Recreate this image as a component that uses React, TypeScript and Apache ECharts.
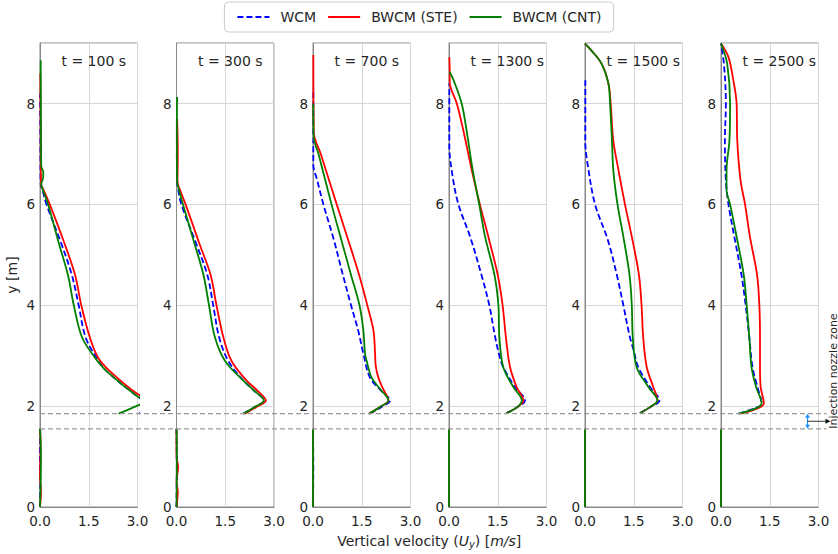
import React, { useEffect, useRef } from 'react';
import * as echarts from 'echarts';

const G: any = ['-', '-'];

const panelTitles = ['t = 100 s', 't = 300 s', 't = 700 s', 't = 1300 s', 't = 1500 s', 't = 2500 s'];
const seriesNames = ['WCM', 'BWCM (STE)', 'BWCM (CNT)'];
const xTicks = [0, 1.5, 3.0];
const yTicks = [0, 2, 4, 6, 8];
const yMax = 9.2;
const nozzleTop = 1.85;
const nozzleBottom = 1.55;

// t = 100 s
const wcm100 = [[0, 0], [0.01, 0.5], [0, 1.0], [0.01, 1.55], G, [3.05, 1.85], [3.3, 2.05], [3.0, 2.19], [2.04, 2.7], [1.73, 2.97], [1.4, 3.37], [1.19, 4.0], [0.98, 4.6], [0.64, 5.25], [0.2, 6.0], [0.07, 6.3], [0.02, 6.4], [0.01, 7.5], [0.005, 8.2]];
const ste100 = [[0, 0], [0.03, 0.3], [0, 0.6], [0.02, 1.2], [0, 1.55], G, [3.2, 1.85], [3.45, 2.1], [3.0, 2.24], [2.14, 2.7], [1.78, 2.97], [1.53, 3.37], [1.27, 4.0], [1.08, 4.6], [0.74, 5.25], [0.3, 6.0], [0.1, 6.3], [0.03, 6.4], [0.02, 7.5], [0.01, 8.6]];
const cnt100 = [[0, 0], [0.02, 0.5], [0.03, 1.0], [0, 1.55], G, [2.42, 1.85], [3.0, 2.01], [3.3, 2.1], [3.0, 2.19], [2.04, 2.7], [1.68, 2.97], [1.29, 3.37], [1.04, 4.0], [0.86, 4.6], [0.57, 5.25], [0.25, 6.0], [0.08, 6.3], [0.04, 6.4], [0.1, 6.55], [0.1, 6.65], [0.04, 6.75], [0.03, 7.5], [0.02, 8.86]];

// t = 300 s
const wcm300 = [[0, 0], [0.01, 0.8], [0, 1.55], G, [2.05, 1.85], [2.4, 1.98], [2.69, 2.11], [2.4, 2.3], [2.05, 2.51], [1.59, 2.9], [1.31, 3.37], [1.13, 4.0], [0.95, 4.6], [0.6, 5.23], [0.15, 6.0], [0.05, 6.3], [0.02, 6.45], [0.01, 7.0]];
const ste300 = [[0, 0], [0.04, 0.3], [0, 0.5], [0.05, 0.8], [0, 1.0], [0, 1.55], G, [2.1, 1.85], [2.45, 1.98], [2.75, 2.11], [2.5, 2.3], [2.15, 2.51], [1.69, 2.9], [1.44, 3.37], [1.23, 4.0], [1.05, 4.6], [0.7, 5.23], [0.28, 6.0], [0.1, 6.3], [0.03, 6.45], [0.04, 7.0], [0.02, 7.7]];
const cnt300 = [[0, 0], [0.01, 1.0], [0, 1.55], G, [2.05, 1.85], [2.4, 1.98], [2.69, 2.11], [2.4, 2.3], [2.05, 2.51], [1.49, 2.9], [1.18, 3.37], [1.0, 4.0], [0.83, 4.6], [0.55, 5.23], [0.2, 6.0], [0.07, 6.3], [0.02, 6.45], [0.01, 7.5], [0.02, 8.13]];

// t = 700 s
const wcm700 = [[0, 0], [0.01, 0.8], [0, 1.55], G, [1.75, 1.85], [2.1, 1.98], [2.37, 2.11], [2.1, 2.3], [1.75, 2.57], [1.55, 3.04], [1.39, 3.5], [1.17, 4.0], [0.9, 4.65], [0.64, 5.3], [0.32, 6.0], [0.12, 6.5], [0.01, 6.78], [0.01, 7.5], [0.01, 8.3]];
const ste700 = [[0, 0], [0, 1.55], G, [1.72, 1.85], [2.05, 1.98], [2.32, 2.11], [2.15, 2.35], [2.01, 2.57], [1.93, 2.8], [1.91, 3.04], [1.86, 3.5], [1.67, 4.0], [1.42, 4.6], [1.08, 5.3], [0.73, 6.0], [0.24, 7.0], [0.02, 7.44], [0.01, 8.96]];
const cnt700 = [[0, 0], [0, 1.55], G, [1.72, 1.85], [2.05, 1.98], [2.32, 2.11], [2.05, 2.35], [1.8, 2.57], [1.65, 2.9], [1.6, 3.04], [1.55, 3.5], [1.43, 4.0], [1.17, 4.6], [0.87, 5.3], [0.57, 6.0], [0.17, 7.0], [0.02, 7.34], [0.01, 8.0]];

// t = 1300 s
const wcm1300 = [[0, 0], [0, 1.55], G, [1.77, 1.86], [2.1, 1.98], [2.34, 2.11], [2.03, 2.38], [1.67, 2.77], [1.55, 3.0], [1.42, 3.37], [1.24, 4.0], [1.0, 4.6], [0.65, 5.36], [0.29, 6.0], [0.1, 6.6], [0.01, 7.17], [0.01, 8.4]];
const ste1300 = [[0, 0], [0, 1.55], G, [1.77, 1.86], [2.1, 1.98], [2.29, 2.11], [2.08, 2.38], [1.88, 2.77], [1.75, 3.37], [1.65, 4.0], [1.5, 4.6], [1.21, 5.36], [0.95, 6.0], [0.7, 6.68], [0.44, 7.47], [0.24, 8.0], [0.02, 8.43], [0.02, 8.7], [0.01, 8.92]];
const cnt1300 = [[0, 0], [0, 1.55], G, [1.77, 1.86], [2.1, 1.98], [2.24, 2.11], [1.98, 2.38], [1.67, 2.77], [1.55, 3.37], [1.52, 4.0], [1.4, 4.6], [1.11, 5.36], [0.93, 6.0], [0.73, 6.68], [0.54, 7.47], [0.39, 8.0], [0.15, 8.45], [0.02, 8.63]];

// t = 1500 s
const wcm1500 = [[0, 0], [0, 1.55], G, [1.69, 1.86], [2.0, 1.98], [2.29, 2.11], [2.0, 2.38], [1.64, 2.77], [1.5, 3.1], [1.38, 3.37], [1.18, 4.0], [0.98, 4.6], [0.7, 5.3], [0.31, 6.0], [0.08, 6.8], [0.01, 7.24], [0.01, 8.5]];
const ste1500 = [[0, 0], [0, 1.55], G, [1.69, 1.86], [2.0, 1.98], [2.23, 2.11], [2.1, 2.38], [1.9, 2.77], [1.79, 3.37], [1.74, 4.0], [1.66, 4.6], [1.44, 5.36], [1.23, 6.0], [1.03, 6.68], [0.87, 7.27], [0.79, 8.0], [0.72, 8.4], [0.51, 8.79], [0.2, 9.05], [0, 9.19]];
const cnt1500 = [[0, 0], [0, 1.55], G, [1.69, 1.86], [2.0, 1.98], [2.23, 2.11], [1.95, 2.38], [1.59, 2.77], [1.47, 3.37], [1.44, 4.0], [1.37, 4.6], [1.18, 5.36], [1.0, 6.0], [0.87, 6.68], [0.83, 7.27], [0.77, 8.0], [0.72, 8.4], [0.51, 8.79], [0.2, 9.05], [0, 9.19]];

// t = 2500 s
const wcm2500 = [[0, 0], [0, 1.55], G, [0.55, 1.85], [1.0, 1.95], [1.25, 2.05], [1.12, 2.38], [0.97, 2.77], [0.87, 3.37], [0.76, 4.0], [0.63, 4.6], [0.41, 5.36], [0.23, 6.0], [0.15, 6.48], [0.12, 7.27], [0.15, 8.0], [0.09, 8.79], [0, 9.19]];
const ste2500 = [[0, 0], [0, 1.55], G, [0.6, 1.85], [1.1, 1.95], [1.32, 2.05], [1.22, 2.38], [1.2, 2.77], [1.2, 3.37], [1.18, 4.0], [1.11, 4.6], [0.89, 5.36], [0.74, 6.0], [0.6, 6.48], [0.5, 7.27], [0.48, 8.0], [0.38, 8.46], [0.23, 8.92], [0, 9.19]];
const cnt2500 = [[0, 0], [0, 1.55], G, [0.53, 1.85], [1.05, 1.95], [1.25, 2.05], [1.08, 2.38], [0.94, 2.77], [0.87, 3.37], [0.79, 4.0], [0.7, 4.6], [0.48, 5.36], [0.28, 6.0], [0.17, 6.28], [0.17, 6.68], [0.26, 7.27], [0.28, 8.0], [0.19, 8.79], [0, 9.19]];

const panelData = [
  [wcm100, ste100, cnt100],
  [wcm300, ste300, cnt300],
  [wcm700, ste700, cnt700],
  [wcm1300, ste1300, cnt1300],
  [wcm1500, ste1500, cnt1500],
  [wcm2500, ste2500, cnt2500],
];

const FONT = 'DejaVu Sans';
const TEXT = '#262626';
const lineColors = ['#0000ff', '#ff0000', '#008000'];
const lineTypes: any[] = [[6, 3], 'solid', 'solid'];
const panelLefts = [40, 176.5, 313, 449, 585, 721];
const panelWidth = 97.5;
const panelTop = 43;
const panelHeight = 464;

export default function App() {
  const ref = useRef<HTMLDivElement>(null);
  useEffect(() => {
    if (!ref.current) return;
    const chart = echarts.init(ref.current, null, { renderer: 'svg' });
    const n = panelData.length;
    const option: any = {
      animation: false,
      textStyle: { fontFamily: FONT },
      legend: {
        data: seriesNames,
        top: 2,
        left: 'center',
        itemWidth: 32,
        itemHeight: 14,
        itemGap: 11,
        padding: [8, 12],
        borderColor: '#cccccc',
        borderWidth: 1,
        borderRadius: 4,
        itemStyle: { opacity: 0, borderWidth: 0 },
        textStyle: { fontSize: 14, color: TEXT, fontFamily: FONT, padding: [0, 0, 0, 6] },
      },
      grid: panelLefts.map((l) => ({
        left: l,
        top: panelTop,
        width: panelWidth,
        height: panelHeight,
        show: true,
        borderColor: '#888888',
        borderWidth: 1,
        backgroundColor: 'transparent',
      })),
      xAxis: panelLefts.map((_, i) => ({
        type: 'value',
        gridIndex: i,
        min: xTicks[0],
        max: xTicks[xTicks.length - 1],
        interval: xTicks[1] - xTicks[0],
        axisLine: { show: true, lineStyle: { color: '#888888' } },
        axisTick: { show: false },
        axisLabel: { fontSize: 13.5, color: TEXT, fontFamily: FONT, margin: 7, formatter: (v: number) => v.toFixed(1) },
        splitLine: { show: true, lineStyle: { color: '#d6d6d6', width: 1 } },
      })),
      yAxis: panelLefts.map((_, i) => ({
        type: 'value',
        gridIndex: i,
        min: yTicks[0],
        max: yMax,
        interval: yTicks[1] - yTicks[0],
        axisLine: { show: true, lineStyle: { color: '#888888' } },
        axisTick: { show: false },
        axisLabel: {
          fontSize: 13.5,
          color: TEXT,
          fontFamily: FONT,
          margin: 5,
          formatter: (v: number) => (yTicks.indexOf(v) >= 0 ? String(v) : ''),
        },
        splitLine: { show: true, lineStyle: { color: '#d6d6d6', width: 1 } },
      })),
      series: panelData.flatMap((curves, i) =>
        curves.map((d, k) => ({
          type: 'line',
          name: seriesNames[k],
          xAxisIndex: i,
          yAxisIndex: i,
          data: d,
          symbol: 'none',
          showSymbol: false,
          connectNulls: false,
          clip: true,
          smooth: 0.35,
          color: lineColors[k],
          z: 3 + k,
          lineStyle: { color: lineColors[k], width: 1.8, type: lineTypes[k] },
        }))
      ),
    };
    chart.setOption(option);

    const yT = chart.convertToPixel({ yAxisIndex: 0 }, nozzleTop) as number;
    const yB = chart.convertToPixel({ yAxisIndex: 0 }, nozzleBottom) as number;
    const xStart = chart.convertToPixel({ xAxisIndex: 0 }, xTicks[0]) as number;
    const xLastRight = chart.convertToPixel({ xAxisIndex: n - 1 }, xTicks[xTicks.length - 1]) as number;
    const xEnd = xLastRight + 8;
    const xArrow = xLastRight - 11;
    const yMid = (yT + yB) / 2;
    const blue = '#1e90ff';

    const graphics: any[] = [];
    [yT, yB].forEach((y) =>
      graphics.push({
        type: 'line',
        z: 10,
        shape: { x1: xStart, y1: y, x2: xEnd, y2: y },
        style: { stroke: '#9a9a9a', lineWidth: 1.3, lineDash: [5, 3] },
      })
    );
    panelTitles.forEach((t, i) => {
      const xl = chart.convertToPixel({ xAxisIndex: i }, xTicks[0]) as number;
      const yl = chart.convertToPixel({ yAxisIndex: i }, 8.85) as number;
      graphics.push({
        type: 'text',
        z: 20,
        x: xl + 21.5,
        y: yl,
        style: { text: t, fontSize: 14, fontFamily: FONT, fill: TEXT, align: 'left', verticalAlign: 'middle' },
      });
    });
    // blue double arrow
    graphics.push({
      type: 'line',
      z: 12,
      shape: { x1: xArrow, y1: yT + 3, x2: xArrow, y2: yB - 3 },
      style: { stroke: blue, lineWidth: 1.2 },
    });
    graphics.push({
      type: 'polygon',
      z: 12,
      shape: { points: [[xArrow, yT], [xArrow - 2.5, yT + 4], [xArrow + 2.5, yT + 4]] },
      style: { fill: blue },
    });
    graphics.push({
      type: 'polygon',
      z: 12,
      shape: { points: [[xArrow, yB], [xArrow - 2.5, yB - 4], [xArrow + 2.5, yB - 4]] },
      style: { fill: blue },
    });
    // black arrow
    graphics.push({
      type: 'line',
      z: 12,
      shape: { x1: xArrow, y1: yMid, x2: xEnd, y2: yMid },
      style: { stroke: '#333333', lineWidth: 1 },
    });
    graphics.push({
      type: 'polygon',
      z: 12,
      shape: { points: [[xEnd + 4, yMid], [xEnd - 1, yMid - 2.5], [xEnd - 1, yMid + 2.5]] },
      style: { fill: '#111111' },
    });
    graphics.push({
      type: 'text',
      z: 12,
      x: xEnd + 6.5,
      y: yB,
      rotation: Math.PI / 2,
      style: { text: 'Injection nozzle zone', fontSize: 11, fontFamily: FONT, fill: TEXT, align: 'left', verticalAlign: 'middle' },
    });
    // axis titles
    graphics.push({
      type: 'text',
      x: 12,
      y: (panelTop + panelTop + panelHeight) / 2,
      rotation: Math.PI / 2,
      style: { text: 'y [m]', fontSize: 14, fontFamily: FONT, fill: TEXT, align: 'center', verticalAlign: 'middle' },
    });
    graphics.push({
      type: 'text',
      x: (xStart + xLastRight) / 2,
      y: 541,
      style: {
        text: 'Vertical velocity ({i|U}{sub|y}) [{i|m/s}]',
        fontSize: 14,
        fontFamily: FONT,
        fill: TEXT,
        align: 'center',
        verticalAlign: 'middle',
        rich: {
          i: { fontStyle: 'italic', fontSize: 14, fontFamily: FONT, fill: TEXT },
          sub: { fontStyle: 'italic', fontSize: 10, fontFamily: FONT, fill: TEXT, padding: [6, 0, 0, 0] },
        },
      },
    });
    chart.setOption({ graphic: graphics });

    return () => chart.dispose();
  }, []);
  return (
    <div
      ref={ref}
      style={{ position: 'absolute', left: 0, top: 0, width: 838, height: 554, background: '#ffffff' }}
    />
  );
}
